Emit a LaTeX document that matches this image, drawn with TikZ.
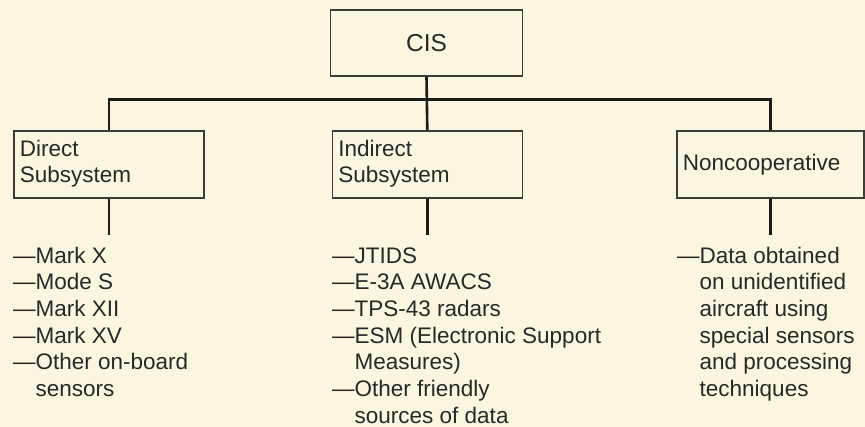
\documentclass[tikz,border=0pt]{standalone}
\usepackage{fontspec}
\setmainfont{Liberation Sans}
\definecolor{paper}{RGB}{251,246,224}
\definecolor{ink}{RGB}{40,40,38}
\definecolor{wirecol}{RGB}{28,28,26}
\definecolor{boxcol}{RGB}{60,60,56}
\begin{document}
\begin{tikzpicture}[x=1pt,y=-1pt,
  txt/.style={font=\fontsize{22.5}{26.7}\selectfont, text=ink},
  box/.style={txt, draw=boxcol, line width=1.6pt, inner xsep=6pt, inner ysep=0pt,
    text width=178pt, minimum height=67pt, align=left, anchor=north west},
  wire/.style={draw=wirecol, line width=2.6pt},
  list/.style={txt, anchor=north west, inner sep=0pt, align=left}]
\fill[paper] (0,0) rectangle (865,427);
\useasboundingbox (0,0) rectangle (865,427);
\node[draw=boxcol, line width=1.6pt, minimum width=192pt, minimum height=66pt,
  font=\fontsize{24.5}{28}\selectfont, text=ink] (cis) at (426.5,43) {CIS};
\node[box] (dir) at (13,130) {\strut Direct\\Subsystem\strut};
\node[box] (ind) at (331.5,130) {\strut Indirect\\Subsystem\strut};
\node[box, text width=175pt] (non) at (676,130) {Noncooperative};
\coordinate (hub) at (426.5,99.5);
\draw[wire] (dir.north) |- (hub) -| (non.north);
\draw[wire] (cis.south) -- (ind.north);
\coordinate (dirend) at ([yshift=-36pt]dir.south);
\coordinate (indend) at ([yshift=-36pt]ind.south);
\coordinate (nonend) at ([yshift=-36pt]non.south);
\draw[wire] (dir.south) -- (dirend);
\draw[wire] (ind.south) -- (indend);
\draw[wire] (non.south) -- (nonend);
\node[list] (dirlist) at (13,244.3) {\strut —Mark X\\—Mode S\\—Mark XII\\—Mark XV\\—Other on-board\\\phantom{—}sensors};
\node[list] (indlist) at (332,244.3) {\strut —JTIDS\\—E-3A AWACS\\—TPS-43 radars\\—ESM (Electronic Support\\\phantom{—}Measures)\\—Other friendly\\\phantom{—}sources of data};
\node[list] (nonlist) at (677,244.3) {\strut —Data obtained\\\phantom{—}on unidentified\\\phantom{—}aircraft using\\\phantom{—}special sensors\\\phantom{—}and processing\\\phantom{—}techniques};
\end{tikzpicture}
\end{document}
